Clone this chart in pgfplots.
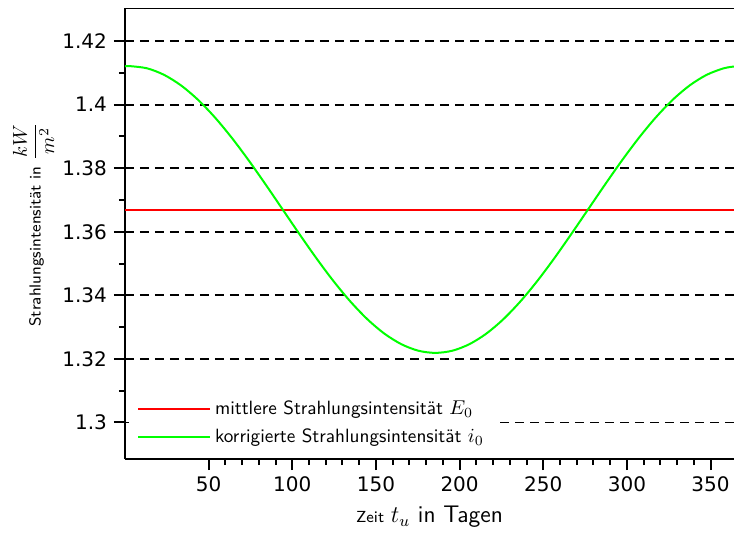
\documentclass[border=0pt]{standalone}
\usepackage{fontspec}
\usepackage{pgfplots}
\pgfplotsset{compat=1.18}
\newfontfamily\ticfont{DejaVu Sans}
\begin{document}
\begin{tikzpicture}[font=\sffamily]
\begin{axis}[
  scale only axis, width=304.5pt, height=225.5pt,
  xmin=0, xmax=364, ymin=1.2885, ymax=1.4304,
  axis x line*=bottom, axis y line*=left,
  axis line style={line width=1pt, black},
  xtick={50,100,150,200,250,300,350},
  ytick={1.3,1.32,1.34,1.36,1.38,1.4,1.42},
  minor x tick num=4, minor y tick num=1,
  tick align=outside, major tick length=5.5pt, minor tick length=3pt,
  tick style={black, line width=1pt},
  ymajorgrids, grid style={black, line width=0.9pt, dash pattern=on 4.5pt off 3pt},
  /pgf/number format/assume math mode=true,
  tick label style={font=\ticfont\fontsize{10}{12}\selectfont},
  xlabel={{\footnotesize Zeit} \fontsize{12}{14}\selectfont$t_u$ in Tagen},
  ylabel={{\footnotesize Strahlungsintensit\"at in} $\displaystyle\frac{kW}{m^2}$},
  every axis y label/.style={at={(axis description cs:-0.15,0.52)}, rotate=90, anchor=center},
  legend style={at={(rel axis cs:0.006,0.148)}, anchor=north west, draw=none, fill=white,
    font=\sffamily\fontsize{9.6}{11.5}\selectfont, inner xsep=4pt, row sep=1.5pt},
  legend cell align=left,
  legend image code/.code={\draw[#1] (0pt,0pt) -- (30pt,0pt); \path (0pt,0pt) -- (36pt,0pt);},
]
\addplot[color=red, draw=red, line width=1pt] coordinates {(0,1.367) (364,1.367)};
\addlegendentry{mittlere Strahlungsintensit\"at $E_0$}
\addplot[color=green, line width=1pt, smooth] coordinates {
(0,1.41205) (3,1.41211) (13.139,1.41143) (23.278,1.40939) (33.417,1.40607) (43.556,1.40156)
(53.694,1.39600) (63.833,1.38956) (73.972,1.38243) (84.111,1.37483) (94.25,1.36700)
(104.389,1.35917) (114.528,1.35157) (124.667,1.34444) (134.806,1.33800) (144.944,1.33244)
(155.083,1.32793) (165.222,1.32461) (175.361,1.32257) (185.5,1.32189) (195.639,1.32257)
(205.778,1.32461) (215.917,1.32793) (226.056,1.33244) (236.194,1.33800) (246.333,1.34444)
(256.472,1.35157) (266.611,1.35917) (276.75,1.36700) (286.889,1.37483) (297.028,1.38243)
(307.167,1.38956) (317.306,1.39600) (327.444,1.40156) (337.583,1.40607) (347.722,1.40939)
(357.861,1.41143) (365,1.41205)};
\addlegendentry{korrigierte Strahlungsintensit\"at $i_0$}
\draw[line width=1pt] (rel axis cs:0,1) -- (rel axis cs:1,1);
\coordinate (bl) at (rel axis cs:0,0);
\coordinate (tr) at (rel axis cs:1,1);
\end{axis}
\pgfresetboundingbox
\path[use as bounding box] ([xshift=-62.5pt,yshift=-39pt]bl) rectangle ([yshift=4pt]tr);
\end{tikzpicture}
\end{document}
